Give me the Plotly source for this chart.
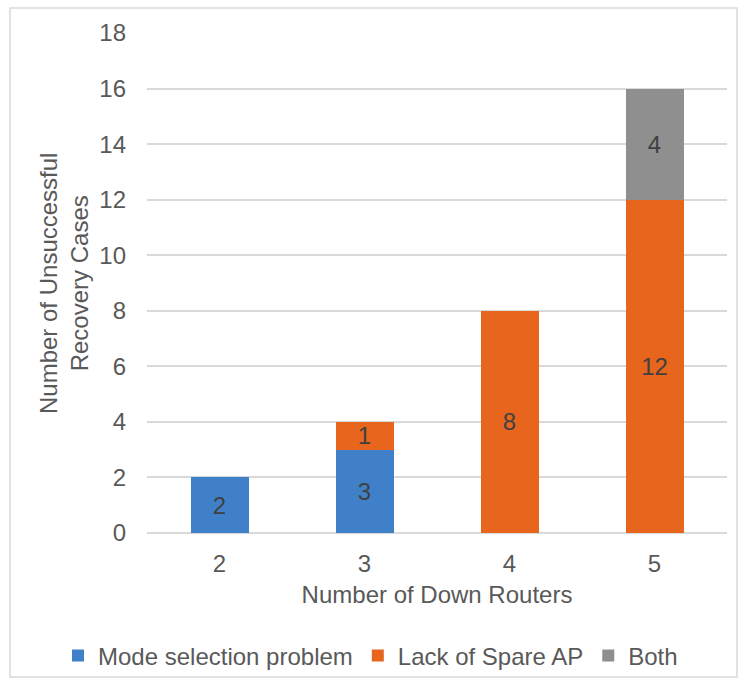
import plotly.graph_objects as go

categories = ["2", "3", "4", "5"]
mode_selection = [2, 3, 0, 0]
lack_spare_ap = [0, 1, 8, 12]
both = [0, 0, 0, 4]
series_names = ["Mode selection problem", "Lack of Spare AP", "Both"]
y_ticks = [0, 2, 4, 6, 8, 10, 12, 14, 16, 18]

colors = ["#3F80C8", "#E8651D", "#8F8F8F"]
FONT = "Liberation Sans, Arial, sans-serif"

fig = go.Figure()
for name, vals, col in zip(series_names, [mode_selection, lack_spare_ap, both], colors):
    fig.add_trace(go.Bar(
        x=categories, y=vals, name=name,
        marker=dict(color=col, line=dict(width=0)),
        text=[str(v) if v else "" for v in vals],
        textposition="inside", insidetextanchor="middle", textangle=0,
        textfont=dict(size=24, color="#404040", family=FONT),
        hoverinfo="skip",
    ))

W, H = 739, 680
L, R, T, B = 147, 12, 33, 147
pw, ph = W - L - R, H - T - B

def px(x):
    return (x - L) / pw

def py(y):
    return (H - B - y) / ph

fig.update_layout(
    width=W, height=H,
    barmode="stack", bargap=0.6,
    margin=dict(l=L, r=R, t=T, b=B, autoexpand=False),
    paper_bgcolor="white", plot_bgcolor="white",
    font=dict(family=FONT, size=24, color="#595959"),
    uniformtext=dict(minsize=24, mode="show"),
    xaxis=dict(
        type="category", range=[-0.5, 3.5],
        showgrid=False, showline=False, zeroline=False,
        ticks="", ticklabelstandoff=14,
        tickfont=dict(size=24, color="#595959"),
        title=dict(text="Number of Down Routers", standoff=10,
                   font=dict(size=24, color="#595959")),
        automargin=False,
    ),
    yaxis=dict(
        range=[0, 18], tickvals=y_ticks,
        showgrid=True, gridcolor="#D9D9D9", gridwidth=1.5,
        zeroline=True, zerolinecolor="#D9D9D9", zerolinewidth=1.5,
        showline=False, ticks="", ticklabelstandoff=20,
        tickfont=dict(size=24, color="#595959"),
        automargin=False,
    ),
    legend=dict(
        orientation="h", x=px(58), xanchor="left",
        y=py(656), yanchor="middle",
        font=dict(size=24, color="#595959"),
        traceorder="normal",
        bgcolor="rgba(0,0,0,0)",
    ),
    showlegend=True,
)

fig.add_annotation(
    text="Number of Unsuccessful<br>Recovery Cases",
    textangle=-90, xref="paper", yref="paper",
    x=px(64), y=py(284), xanchor="center", yanchor="middle",
    showarrow=False, font=dict(size=24, color="#595959"),
)

fig.add_shape(
    type="rect", xref="paper", yref="paper",
    x0=px(10), x1=px(737), y0=py(677), y1=py(8),
    line=dict(color="#D9D9D9", width=1.5), fillcolor="rgba(0,0,0,0)",
    layer="below",
)

fig.write_html("out.html", config={"displayModeBar": False},
               post_script="document.body.style.margin='0';")
